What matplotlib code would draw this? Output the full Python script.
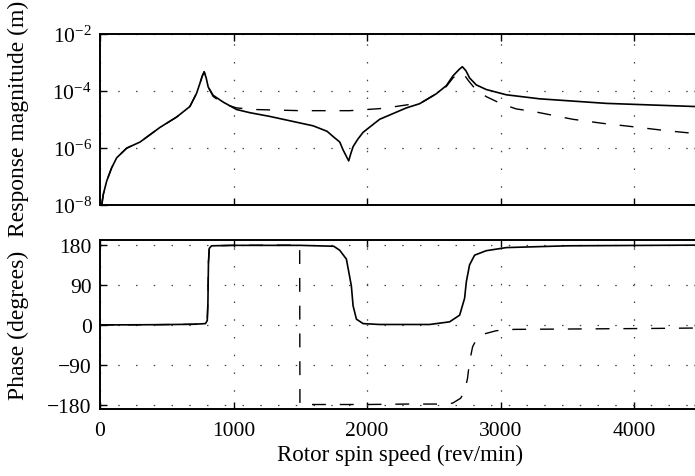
import matplotlib
matplotlib.use("Agg")
import matplotlib.pyplot as plt

plt.rcParams['font.family'] = ['Liberation Serif', 'DejaVu Serif']
plt.rcParams['mathtext.fontset'] = 'custom'
plt.rcParams['mathtext.rm'] = 'Liberation Serif'
plt.rcParams['mathtext.it'] = 'Liberation Serif:italic'

# Response magnitude, first coordinate (solid)
speed_mag_a = [13, 25, 50, 87, 125, 200, 300, 449, 574, 673, 723, 748, 765, 780,
               795, 810, 847, 922, 1022, 1122, 1271, 1596, 1700, 1745, 1795, 1820,
               1845, 1862, 1878, 1895, 1930, 1970, 2094, 2294, 2393, 2518, 2593,
               2643, 2690, 2713, 2740, 2767, 2817, 2892, 3042, 3291, 3790, 4450]
mag_a = [1.0e-8, 2.4e-8, 6.9e-8, 2.0e-7, 4.5e-7, 9.8e-7, 1.6e-6, 5.2e-6, 1.2e-5,
         2.8e-5, 8.1e-5, 1.8e-4, 3.2e-4, 4.6e-4, 2.8e-4, 1.35e-4, 6.9e-5, 4.0e-5,
         2.2e-5, 1.7e-5, 1.26e-5, 5.9e-6, 3.8e-6, 2.5e-6, 1.6e-6, 8.5e-7, 5.0e-7,
         3.5e-7, 6.3e-7, 1.1e-6, 2.0e-6, 3.5e-6, 1.0e-5, 2.5e-5, 3.5e-5, 7.8e-5,
         1.5e-4, 3.3e-4, 5.6e-4, 6.9e-4, 5.0e-4, 2.8e-4, 1.6e-4, 1.1e-4, 7.2e-5,
         5.2e-5, 3.6e-5, 2.8e-5]

# Response magnitude, second coordinate (dashed)
speed_mag_b = [13, 25, 50, 87, 125, 200, 300, 449, 574, 673, 723, 748, 765, 780,
               795, 810, 847, 922, 1022, 1150, 1500, 1870, 2118, 2300, 2393, 2518,
               2593, 2643, 2693, 2720, 2760, 2805, 2892, 3004, 3117, 3239, 3540,
               3764, 3989, 4238, 4450]
mag_b = [1.0e-8, 2.4e-8, 6.9e-8, 2.0e-7, 4.5e-7, 9.8e-7, 1.6e-6, 5.2e-6, 1.2e-5,
         2.8e-5, 8.1e-5, 1.8e-4, 3.2e-4, 4.6e-4, 2.8e-4, 1.35e-4, 6.3e-5, 3.5e-5,
         2.5e-5, 2.2e-5, 2.0e-5, 2.0e-5, 2.4e-5, 3.2e-5, 3.5e-5, 7.8e-5, 1.4e-4,
         2.8e-4, 4.3e-4, 4.0e-4, 2.2e-4, 1.23e-4, 6.2e-5, 3.5e-5, 2.3e-5, 1.9e-5,
         1.0e-5, 7.2e-6, 5.5e-6, 4.0e-6, 3.2e-6]

# Phase, first coordinate (solid)
speed_ph_a = [0, 400, 700, 790, 803, 808, 812, 818, 835, 1000, 1500, 1750, 1795,
              1845, 1882, 1895, 1920, 1970, 2094, 2468, 2618, 2693, 2730, 2743,
              2767, 2805, 2892, 3042, 3500, 4450]
phase_a = [0, 0.5, 1.5, 3, 10, 50, 140, 172, 178, 179, 179, 177, 168, 148, 88, 43,
           13, 3, 1, 1, 7, 22, 60, 97, 135, 157, 167, 174, 178, 179.5]

# Phase, second coordinate (dashed)
speed_ph_b = [0, 400, 700, 790, 803, 808, 812, 818, 835, 1000, 1495, 1497, 1600,
              2000, 2300, 2550, 2640, 2700, 2730, 2752, 2767, 2790, 2820, 2855,
              2967, 3100, 3600, 4100, 4450]
phase_b = [0, 0.5, 1.5, 3, 10, 50, 140, 172, 178, 179, 179.5, -179.5, -179, -179,
           -178, -178, -176, -165, -150, -120, -83, -49, -32, -22, -13, -10, -9,
           -8, -7]

x_ticks = [0, 1000, 2000, 3000, 4000]
mag_ticks = [1e-8, 1e-6, 1e-4, 1e-2]
phase_ticks = [-180, -90, 0, 90, 180]

fig = plt.figure(figsize=(6.95, 4.77), dpi=100)
ax1 = fig.add_axes([0.1439, 0.5681, 0.8647, 0.3595])
ax2 = fig.add_axes([0.1439, 0.1415, 0.8647, 0.3532])

grid_kw = dict(color='#444444', linestyle=(0, (1.2, 13)), linewidth=0.9)

for ax in (ax1, ax2):
    ax.set_xlim(0, 4500)
    ax.set_xticks(x_ticks)
    ax.grid(True, **grid_kw)
    ax.tick_params(direction='in', length=5, width=1.0, top=True, right=True,
                   labelsize=15.5, colors='black')
    for s in ax.spines.values():
        s.set_linewidth(1.4)
        s.set_color('black')

ax1.set_yscale('log')
ax1.set_ylim(1e-8, 1e-2)
ax1.set_yticks(mag_ticks)
ax1.minorticks_off()
ax1.tick_params(labelbottom=False, pad=6)
l1, = ax1.plot(speed_mag_b, mag_b, color='black', linewidth=1.0)
l1.set_dashes((10, 10))
ax1.plot(speed_mag_a, mag_a, color='black', linewidth=1.2)
ax1.set_ylabel('Response magnitude (m)', fontsize=17)
ax1.yaxis.set_label_coords(-0.118, 0.51)

ax2.set_ylim(-188, 191)
ax2.set_yticks(phase_ticks)
ax2.set_yticklabels([str(t).replace('-', '\u2212') for t in phase_ticks])
ax2.tick_params(axis='y', pad=6)
ax2.tick_params(axis='x', pad=9)
l2, = ax2.plot(speed_ph_b, phase_b, color='black', linewidth=1.0)
l2.set_dashes((10, 10))
ax2.plot(speed_ph_a, phase_a, color='black', linewidth=1.2)
ax2.set_ylabel('Phase (degrees)', fontsize=17)
ax2.yaxis.set_label_coords(-0.118, 0.5)
ax2.set_xlabel('Rotor spin speed (rev/min)', fontsize=16.5, labelpad=3)

fig.savefig('out.png', dpi=100)
